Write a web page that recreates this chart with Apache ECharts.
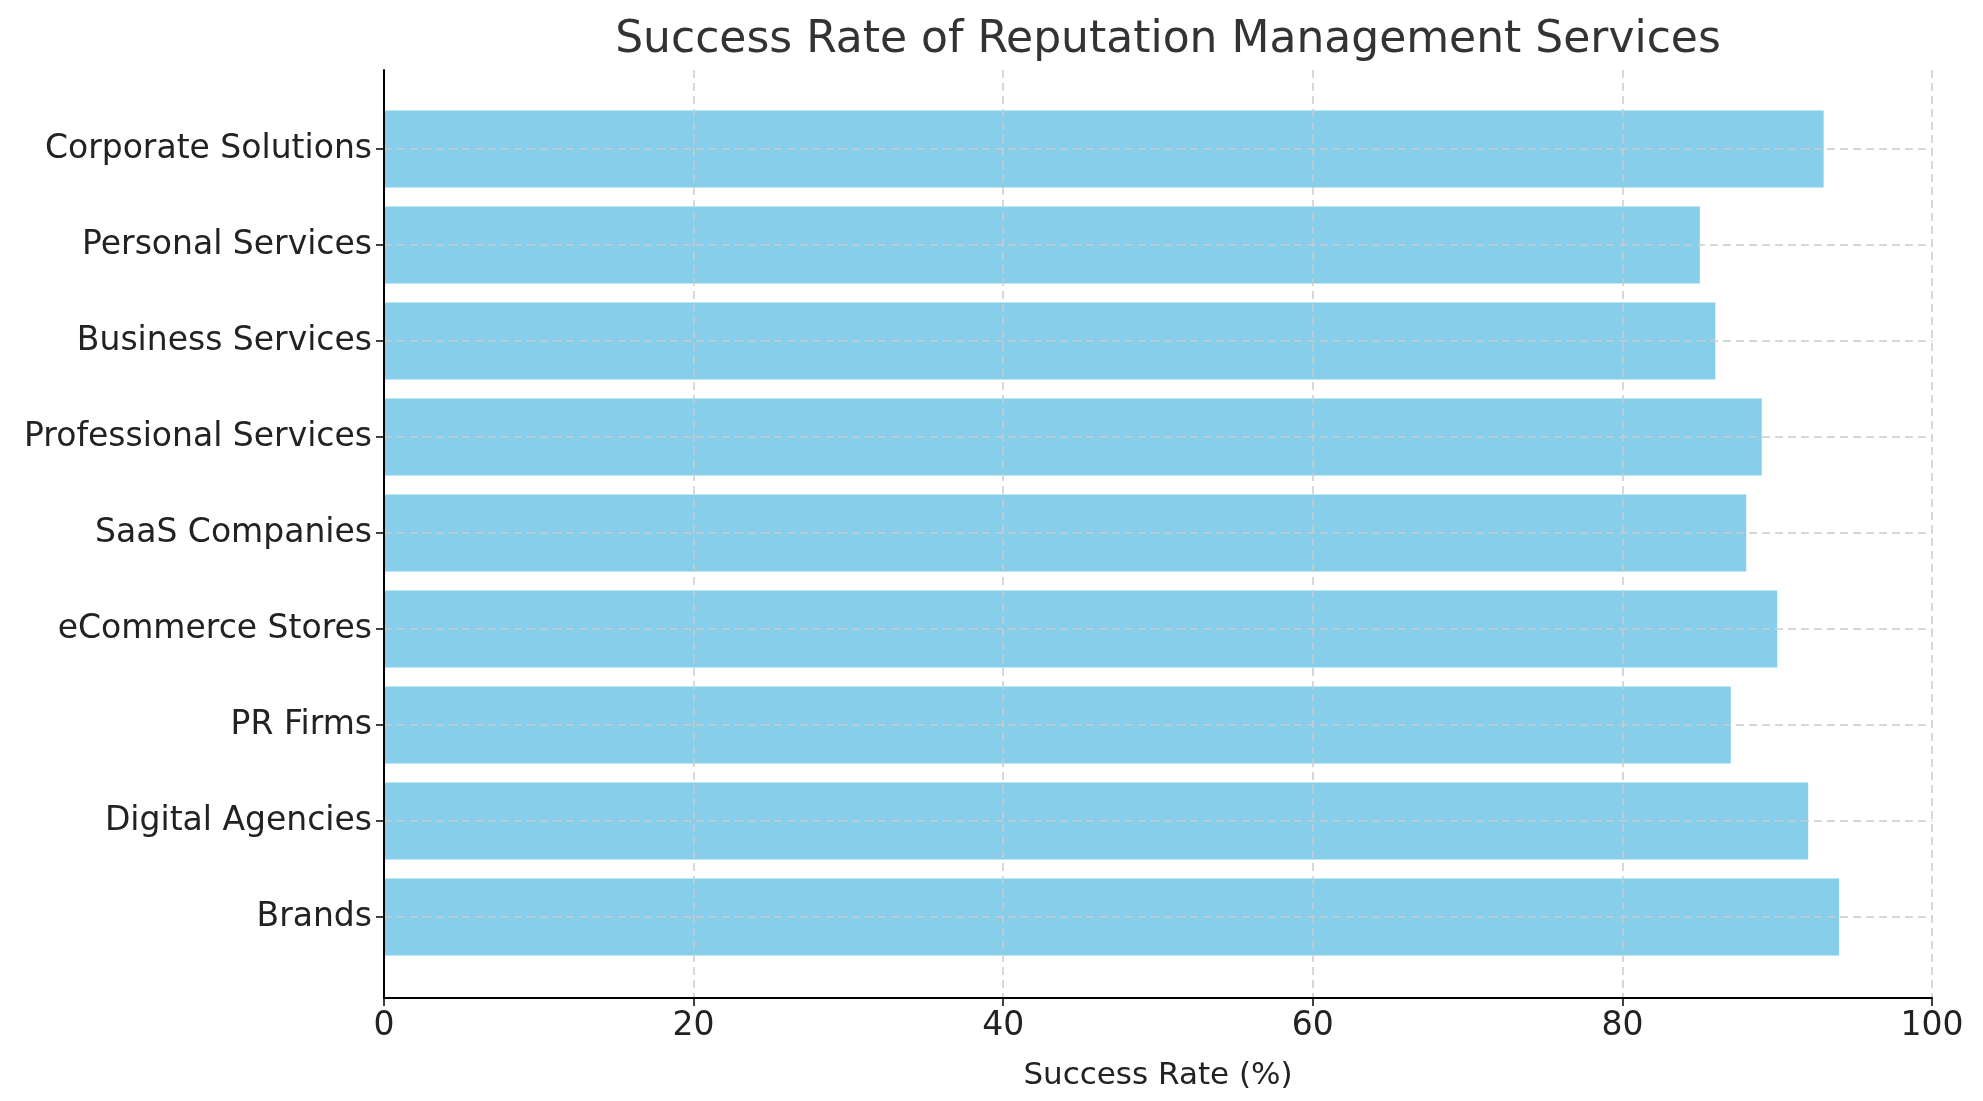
<!DOCTYPE html>
<html>
<head>
<meta charset="utf-8">
<script src="https://cdn.jsdelivr.net/npm/echarts@6/dist/echarts.min.js"></script>
<style>html,body{margin:0;padding:0;background:#fff}#chart{width:1983px;height:1101px}</style>
</head>
<body>
<div id="chart"></div>
<script>
var categories = ['Brands', 'Digital Agencies', 'PR Firms', 'eCommerce Stores', 'SaaS Companies',
  'Professional Services', 'Business Services', 'Personal Services', 'Corporate Solutions'];
var successRates = [94, 92, 87, 90, 88, 89, 86, 85, 93];
var xTicks = [0, 20, 40, 60, 80, 100];

var chart = echarts.init(document.getElementById('chart'));
var font = 'DejaVu Sans';
var option = {
  animation: false,
  textStyle: { fontFamily: font },
  title: {
    text: 'Success Rate of Reputation Management Services',
    left: 1163, textAlign: 'center', top: 14,
    textStyle: { fontSize: 44, fontWeight: 'normal', color: '#333', fontFamily: font }
  },
  grid: [
    { left: 384, right: 51, top: 149, bottom: 184 },
    { left: 384, right: 51, top: 70, bottom: 103 }
  ],
  xAxis: [
    { gridIndex: 0, type: 'value', min: 0, max: 100, show: false },
    {
      gridIndex: 1, type: 'value', min: xTicks[0], max: xTicks[xTicks.length - 1], interval: 20, z: 3,
      axisLine: { lineStyle: { color: '#000', width: 2 } },
      axisTick: { show: true, length: 8, lineStyle: { color: '#000', width: 1.5 } },
      axisLabel: { fontSize: 33, color: '#222', margin: 12 },
      splitLine: { show: true, lineStyle: { color: '#ccc', type: [8, 5], width: 1.5 } },
      name: 'Success Rate (%)', nameLocation: 'middle', nameGap: 62,
      nameTextStyle: { fontSize: 31, color: '#222' }
    }
  ],
  yAxis: [
    {
      gridIndex: 0, type: 'category', data: categories, boundaryGap: false, z: 3,
      axisLine: { show: false },
      axisTick: { show: true, length: 8, lineStyle: { color: '#000', width: 1.5 } },
      axisLabel: { fontSize: 33, color: '#222', margin: 12 },
      splitLine: { show: true, lineStyle: { color: '#ccc', type: [8, 5], width: 1.5 } }
    },
    {
      gridIndex: 1, type: 'value', min: 0, max: 1, z: 5,
      axisLine: { show: true, lineStyle: { color: '#000', width: 2 } },
      axisTick: { show: false }, axisLabel: { show: false }, splitLine: { show: false }
    }
  ],
  series: [{
    type: 'bar', xAxisIndex: 0, yAxisIndex: 0,
    data: successRates, barWidth: 77,
    itemStyle: { color: '#87CEEB' }
  }]
};
chart.setOption(option);
</script>
</body>
</html>
